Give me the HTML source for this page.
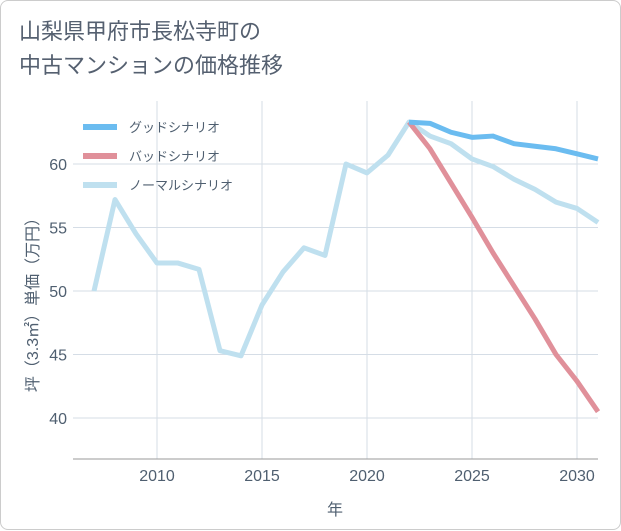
<!DOCTYPE html>
<html><head><meta charset="utf-8"><style>
body{margin:0;background:#fff;font-family:"Liberation Sans","Noto Sans CJK JP",sans-serif;}
#wrap{position:relative;width:619px;height:528px;border:1px solid #ccc;border-radius:8px;background:#fff;}
#title{position:absolute;left:18px;top:14px;font-size:22px;line-height:34px;color:#556070;}
svg{position:absolute;left:0;top:0;}
</style></head><body>
<div id="wrap">
<div id="title">山梨県甲府市長松寺町の<br>中古マンションの価格推移</div>
<svg id="chart" width="621" height="530"></svg>
</div>
<script>
const years=[2007,2008,2009,2010,2011,2012,2013,2014,2015,2016,2017,2018,2019,2020,2021,2022,2023,2024,2025,2026,2027,2028,2029,2030,2031];
const normal=[50,57.2,54.5,52.2,52.2,51.7,45.3,44.9,48.9,51.5,53.4,52.8,60,59.3,60.7,63.3,62.2,61.6,60.4,59.8,58.8,58.0,57.0,56.5,55.4];
const fyears=[2022,2023,2024,2025,2026,2027,2028,2029,2030,2031];
const good=[63.3,63.2,62.5,62.1,62.2,61.6,61.4,61.2,60.8,60.4];
const bad=[63.3,61.2,58.5,55.8,53.0,50.4,47.8,45.0,42.9,40.5];
const xTicks=[2010,2015,2020,2025,2030];
const yTicks=[40,45,50,55,60];
const NS="http://www.w3.org/2000/svg";
const svg=document.getElementById('chart');
const L=72,R=597,T=100,B=458;
const TXT='#4f5f70';
const x=v=>156+(v-2010)*21;
const y=v=>163+(60-v)*12.7;
function mk(t,a){const e=document.createElementNS(NS,t);for(const k in a)e.setAttribute(k,a[k]);svg.appendChild(e);return e;}
for(const t of yTicks){
const g=mk('line',{x1:L,x2:R,y1:y(t),y2:y(t),stroke:'#d5dde6','stroke-width':1});


const tx=mk('text',{x:L-6,y:y(t)+6,'text-anchor':'end','font-size':16,fill:TXT});tx.textContent=t;


}
for(const t of xTicks){
const g=mk('line',{x1:x(t),x2:x(t),y1:T,y2:B,stroke:'#d5dde6','stroke-width':1});


const tx=mk('text',{x:x(t),y:B+22,'text-anchor':'middle','font-size':16,fill:TXT});tx.textContent=t;


}
const ax=mk('line',{x1:L,x2:R,y1:B,y2:B,stroke:'#999','stroke-width':1});


const xt=mk('text',{x:334,y:514,'text-anchor':'middle','font-size':16,fill:TXT});xt.textContent='年';


const yt=mk('text',{x:0,y:0,'text-anchor':'middle','font-size':16,fill:TXT,transform:'translate(37,300) rotate(-90)'});yt.textContent='坪（3.3㎡）単価（万円）';


function line(xs,vs,c,name){
const p=mk('polyline',{points:xs.map((v,i)=>x(v)+','+y(vs[i])).join(' '),fill:'none',stroke:c,'stroke-width':5,'stroke-linejoin':'round'});


}
line(years,normal,'#bfe0ef','normal-scenario-line');
line(fyears,bad,'#e0909a','bad-scenario-line');
line(fyears,good,'#6bbcf0','good-scenario-line');
const leg=[['グッドシナリオ','#6bbcf0'],['バッドシナリオ','#e0909a'],['ノーマルシナリオ','#bfe0ef']];
leg.forEach((l,i)=>{
const yy=126+i*29;
const s=mk('line',{x1:82,x2:116,y1:yy,y2:yy,stroke:l[1],'stroke-width':6});


const t=mk('text',{x:128,y:yy+5,'font-size':13,fill:TXT});t.textContent=l[0];


});
</script>
</body></html>
